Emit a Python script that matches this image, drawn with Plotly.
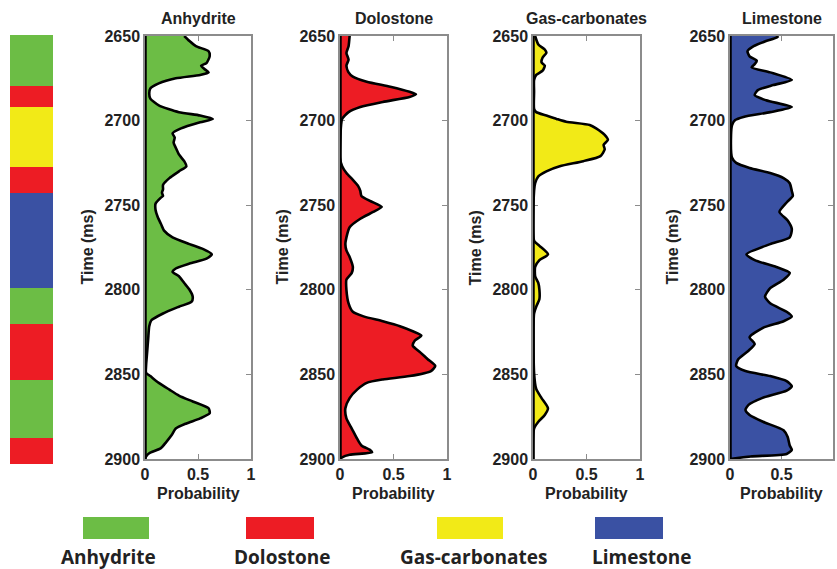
import plotly.graph_objects as go

W, H = 837, 569

# ---------------- data ----------------
facies_names = ["Anhydrite", "Dolostone", "Gas-carbonates", "Limestone"]
facies_colors = ["#6cbd45", "#ed1c24", "#f2ea17", "#3a51a3"]

strip_tops = [2650, 2680, 2692, 2727, 2742, 2797.6, 2818.4, 2851, 2885]
strip_bottoms = [2680, 2692, 2727, 2742, 2797.6, 2818.4, 2851, 2885, 2900]
strip_facies = [0, 1, 2, 1, 3, 0, 1, 0, 1]

anh_t = [2650, 2653, 2656, 2659, 2662, 2666, 2667.5, 2669.5, 2671.5, 2673, 2675, 2678, 2681, 2684, 2687,
         2691, 2695, 2697, 2699, 2701, 2704.6, 2707.5, 2710, 2713, 2716, 2720, 2724, 2727, 2730, 2734,
         2738, 2740.6, 2742.6, 2744.5, 2745.5, 2749, 2753, 2757, 2761, 2765, 2769, 2773, 2776, 2779,
         2781.6, 2784.5, 2787.4, 2789.4, 2792, 2796, 2800, 2804, 2807, 2810, 2814, 2818, 2821.5, 2829,
         2837, 2845, 2849, 2851, 2855, 2859, 2862.5, 2866, 2870, 2873, 2876, 2879, 2882, 2886, 2890,
         2893.6, 2896.6, 2898.5, 2900]
anh_p = [0.37, 0.42, 0.48, 0.60, 0.61, 0.58, 0.53, 0.56, 0.60, 0.52, 0.29, 0.13, 0.05, 0.04, 0.05,
         0.13, 0.32, 0.52, 0.64, 0.52, 0.34, 0.26, 0.28, 0.27, 0.29, 0.32, 0.37, 0.39, 0.32, 0.23,
         0.17, 0.17, 0.16, 0.17, 0.15, 0.10, 0.10, 0.12, 0.15, 0.18, 0.26, 0.42, 0.55, 0.63,
         0.58, 0.42, 0.29, 0.26, 0.32, 0.37, 0.42, 0.45, 0.44, 0.32, 0.17, 0.06, 0.04, 0.03,
         0.02, 0.01, 0.01, 0.05, 0.13, 0.23, 0.32, 0.45, 0.60, 0.61, 0.52, 0.39, 0.29, 0.25, 0.20,
         0.15, 0.04, 0.01, 0.0]

dol_t = [2650, 2656, 2660, 2664, 2667.5, 2671.5, 2674, 2677, 2680, 2683, 2684.5, 2686, 2689, 2692,
         2695, 2699, 2702.6, 2722, 2727, 2731, 2735, 2738.7, 2741.6, 2744.5, 2747.5, 2751, 2754, 2758,
         2763, 2769, 2773, 2776.7, 2780.6, 2786.5, 2790, 2794, 2800, 2808, 2813, 2815.7, 2818.6,
         2821.5, 2824.5, 2827, 2830, 2833, 2837, 2841, 2845, 2848, 2851, 2853, 2855, 2859, 2864,
         2870, 2876, 2882, 2888, 2892, 2894.6, 2896, 2897.5, 2899, 2900]
dol_p = [0.09, 0.08, 0.06, 0.08, 0.06, 0.08, 0.12, 0.25, 0.47, 0.65, 0.71, 0.65, 0.40, 0.19,
         0.08, 0.02, 0.01, 0.0, 0.02, 0.06, 0.12, 0.17, 0.19, 0.20, 0.28, 0.39, 0.31, 0.19,
         0.09, 0.06, 0.05, 0.06, 0.09, 0.12, 0.11, 0.06, 0.06, 0.08, 0.12, 0.22, 0.40,
         0.56, 0.68, 0.76, 0.70, 0.68, 0.75, 0.82, 0.89, 0.85, 0.65, 0.40, 0.25, 0.16, 0.09,
         0.05, 0.06, 0.11, 0.16, 0.20, 0.28, 0.30, 0.09, 0.02, 0.0]

gas_t = [2650, 2655, 2658, 2660, 2662.7, 2665.6, 2667.5, 2670.5, 2673, 2676, 2683, 2693, 2695, 2697,
         2699, 2700.7, 2702.6, 2704.6, 2708.5, 2711.4, 2714.3, 2717, 2721, 2724, 2727, 2730, 2733,
         2737, 2741.6, 2771, 2774, 2779, 2782.5, 2786.5, 2792, 2796, 2800, 2805.4, 2810, 2814, 2849,
         2858.6, 2864, 2870, 2874, 2878, 2882, 2900]
gas_p = [0.02, 0.05, 0.11, 0.125, 0.09, 0.08, 0.11, 0.09, 0.03, 0.01, 0.01, 0.01, 0.03, 0.125,
         0.22, 0.31, 0.53, 0.59, 0.67, 0.70, 0.66, 0.67, 0.63, 0.47, 0.25, 0.125, 0.05,
         0.02, 0.01, 0.01, 0.06, 0.14, 0.06, 0.02, 0.02, 0.05, 0.06, 0.06, 0.03, 0.01, 0.01,
         0.03, 0.08, 0.14, 0.11, 0.05, 0.01, 0.0]

lim_t = [2650, 2651, 2653, 2656, 2659, 2662, 2664.6, 2666.6, 2668.5, 2671.5, 2676, 2679, 2682, 2685,
         2688, 2692, 2695, 2697.8, 2699.7, 2702.6, 2708.5, 2722, 2725, 2728, 2731, 2734, 2737, 2741.6,
         2744.5, 2748.4, 2754, 2759, 2764, 2769, 2773, 2779, 2782.5, 2786.5, 2790, 2794, 2799, 2804,
         2808, 2813, 2815.7, 2818.6, 2822.5, 2828, 2832, 2836, 2841, 2845, 2848, 2851, 2854, 2857,
         2859.6, 2864, 2868, 2871, 2874, 2878, 2883, 2887, 2892, 2894.6, 2897, 2898.5, 2900]
lim_p = [0.47, 0.45, 0.35, 0.23, 0.17, 0.19, 0.26, 0.24, 0.21, 0.39, 0.60, 0.42, 0.27, 0.24,
         0.35, 0.60, 0.39, 0.13, 0.05, 0.02, 0.01, 0.02, 0.06, 0.19, 0.39, 0.52, 0.58, 0.60,
         0.61, 0.55, 0.48, 0.56, 0.60, 0.58, 0.39, 0.16, 0.24, 0.45, 0.58, 0.52, 0.39, 0.34,
         0.39, 0.55, 0.60, 0.52, 0.32, 0.19, 0.24, 0.18, 0.08, 0.06, 0.15, 0.39, 0.55, 0.60,
         0.55, 0.31, 0.18, 0.15, 0.19, 0.32, 0.52, 0.56, 0.58, 0.60, 0.55, 0.2, 0.0]

curves_t = [anh_t, dol_t, gas_t, lim_t]
curves_p = [anh_p, dol_p, gas_p, lim_p]

y_ticks = [2650, 2700, 2750, 2800, 2850, 2900]
x_ticks = [0, 0.5, 1]
x_ticktext = ["0", "0.5", "1"]

# ---------------- layout helpers (pixel geometry) ----------------
def px_x(p):
    return p / W

def px_y(p):
    return 1 - p / H

panel_px = [(145, 251), (340, 447), (533, 640), (730, 833)]
panel_top, panel_bot = 36, 459
strip_px = (10, 53)
strip_top, strip_bot = 35, 464

TICK_FONT = dict(family="Liberation Sans", size=16, color="#222222", weight="bold")
FRAME = "#8c8c8c"

fig = go.Figure()

# facies strip
for top, bot, f in zip(strip_tops, strip_bottoms, strip_facies):
    fig.add_trace(go.Bar(x=[0], y=[bot - top], base=[top], width=1,
                         marker=dict(color=facies_colors[f], line=dict(width=0)),
                         xaxis="x5", yaxis="y5", showlegend=False, hoverinfo="skip"))

# probability panels
for i in range(4):
    xa = "x" if i == 0 else f"x{i+1}"
    ya = "y" if i == 0 else f"y{i+1}"
    fig.add_trace(go.Scatter(x=curves_p[i], y=curves_t[i], mode="lines", fill="tozerox",
                             fillcolor=facies_colors[i],
                             line=dict(color="black", width=2.6, shape="spline", smoothing=0.6),
                             xaxis=xa, yaxis=ya, showlegend=False))
    fig.add_trace(go.Scatter(x=[0, 0], y=[y_ticks[0], y_ticks[-1]], mode="lines",
                             line=dict(color="black", width=3.5),
                             xaxis=xa, yaxis=ya, showlegend=False, hoverinfo="skip"))

layout = dict(width=W, height=H, margin=dict(l=0, r=0, t=0, b=0, pad=0), autosize=False,
              paper_bgcolor="white", plot_bgcolor="white", barmode="overlay", bargap=0,
              showlegend=False)

for i, (l, r) in enumerate(panel_px):
    xk = "xaxis" if i == 0 else f"xaxis{i+1}"
    yk = "yaxis" if i == 0 else f"yaxis{i+1}"
    ya = "y" if i == 0 else f"y{i+1}"
    xa = "x" if i == 0 else f"x{i+1}"
    layout[xk] = dict(domain=[px_x(l), px_x(r)], anchor=ya, range=[0, 1],
                      tickvals=x_ticks, ticktext=x_ticktext, ticks="inside", ticklen=5,
                      tickcolor=FRAME, showline=True, linecolor=FRAME, linewidth=1.5,
                      mirror="ticks", showgrid=False, zeroline=False, tickfont=TICK_FONT,
                      layer="below traces", automargin=False)
    layout[yk] = dict(domain=[px_y(panel_bot), px_y(panel_top)], anchor=xa,
                      range=[y_ticks[-1], y_ticks[0]], tickvals=y_ticks, ticks="inside",
                      ticklen=5, tickcolor=FRAME, showline=True, linecolor=FRAME, linewidth=1.5,
                      mirror="ticks", showgrid=False, zeroline=False, tickfont=TICK_FONT,
                      layer="below traces", automargin=False)

layout["xaxis5"] = dict(domain=[px_x(strip_px[0]), px_x(strip_px[1])], anchor="y5",
                        range=[-0.5, 0.5], visible=False)
layout["yaxis5"] = dict(domain=[px_y(strip_bot), px_y(strip_top)], anchor="x5",
                        range=[y_ticks[-1], y_ticks[0]], visible=False)

annotations = []
shapes = []
LBL_FONT = dict(family="Liberation Sans", size=16, color="#222222", weight="bold")
for i, (l, r) in enumerate(panel_px):
    cx = (l + r) / 2
    annotations.append(dict(text=facies_names[i], x=px_x(cx), y=px_y(19), xref="paper", yref="paper",
                            showarrow=False, font=LBL_FONT, xanchor="center", yanchor="middle"))
    annotations.append(dict(text="Probability", x=px_x(cx), y=px_y(493), xref="paper", yref="paper",
                            showarrow=False, font=LBL_FONT, xanchor="center", yanchor="middle"))
    annotations.append(dict(text="Time (ms)", x=px_x(l - 58), y=px_y((panel_top + panel_bot) / 2),
                            xref="paper", yref="paper", showarrow=False, font=LBL_FONT,
                            textangle=-90, xanchor="center", yanchor="middle"))

# bottom legend
legend_boxes = [(83, 149), (246, 314), (437, 503), (595, 663)]
legend_text_cx = [109, 282, 473, 642]
LEG_FONT = dict(family="Open Sans", size=19, color="#222222", weight="bold")
for i, (l, r) in enumerate(legend_boxes):
    shapes.append(dict(type="rect", xref="paper", yref="paper", x0=px_x(l), x1=px_x(r),
                       y0=px_y(539), y1=px_y(517), fillcolor=facies_colors[i],
                       line=dict(width=0)))
    annotations.append(dict(text=facies_names[i], x=px_x(legend_text_cx[i]), y=px_y(557),
                            xref="paper", yref="paper", showarrow=False, font=LEG_FONT,
                            xanchor="center", yanchor="middle"))

layout["annotations"] = annotations
layout["shapes"] = shapes
fig.update_layout(**layout)

fig.write_html("out.html", post_script="document.body.style.margin='0';document.body.style.overflow='hidden';")
